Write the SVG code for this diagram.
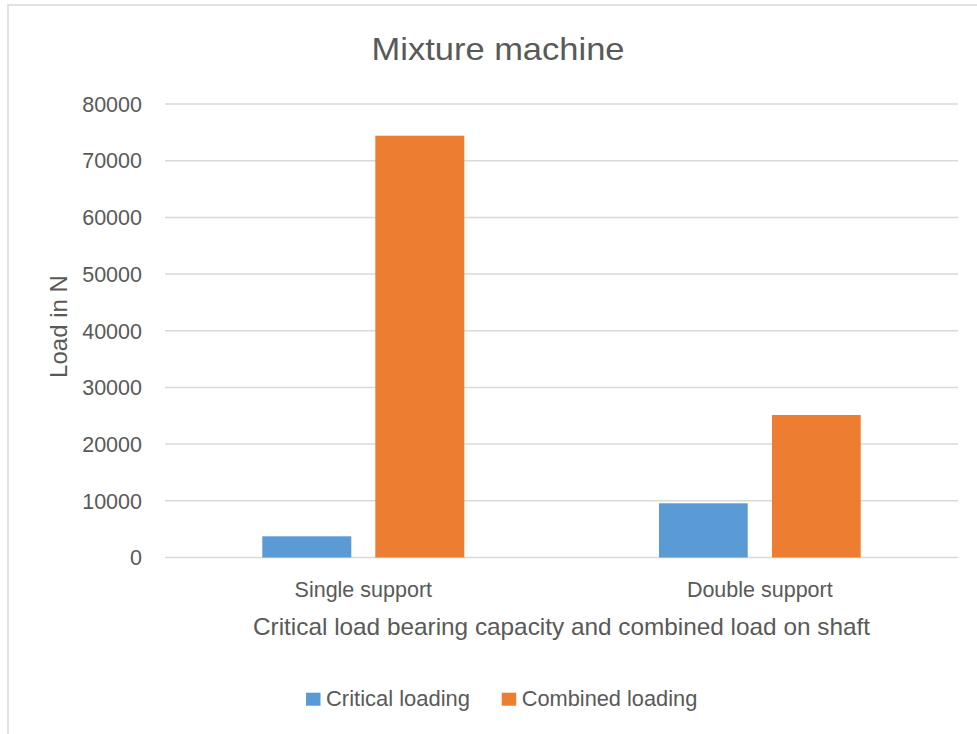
<svg xmlns="http://www.w3.org/2000/svg" width="977" height="734" viewBox="0 0 977 734">
<style>
text{font-family:"Liberation Sans",Arial,sans-serif;fill:#595959}
.tick{font-size:21.5px;text-anchor:end}
.cat{font-size:21.5px;text-anchor:middle}
.leg{font-size:21.5px}
.grid{stroke:#d9d9d9;stroke-width:1.5}
.blue{fill:#5b9bd5}
.orange{fill:#ed7d31}
</style>
<rect x="0" y="0" width="977" height="734" fill="#ffffff"/>
<path d="M8,740 V5 H980" fill="none" stroke="#d9d9d9" stroke-width="1.5"/>
<g id="title"><text x="498" y="60" font-size="32" text-anchor="middle" textLength="253" lengthAdjust="spacingAndGlyphs">Mixture machine</text></g>
<g id="gridlines">
<line class="grid" x1="165" y1="104" x2="958" y2="104"/>
<line class="grid" x1="165" y1="160.7" x2="958" y2="160.7"/>
<line class="grid" x1="165" y1="217.4" x2="958" y2="217.4"/>
<line class="grid" x1="165" y1="274.1" x2="958" y2="274.1"/>
<line class="grid" x1="165" y1="330.8" x2="958" y2="330.8"/>
<line class="grid" x1="165" y1="387.4" x2="958" y2="387.4"/>
<line class="grid" x1="165" y1="444.1" x2="958" y2="444.1"/>
<line class="grid" x1="165" y1="500.8" x2="958" y2="500.8"/>
<line class="grid" x1="165" y1="557.5" x2="958" y2="557.5"/>
</g>
<g id="y-axis">
<text class="tick" x="142" y="111.7">80000</text>
<text class="tick" x="142" y="168.4">70000</text>
<text class="tick" x="142" y="225.1">60000</text>
<text class="tick" x="142" y="281.8">50000</text>
<text class="tick" x="142" y="338.5">40000</text>
<text class="tick" x="142" y="395.1">30000</text>
<text class="tick" x="142" y="451.8">20000</text>
<text class="tick" x="142" y="508.5">10000</text>
<text class="tick" x="142" y="565.2">0</text>
<text x="0" y="0" font-size="24" text-anchor="middle" transform="translate(67,326.5) rotate(-90)">Load in N</text>
</g>
<g id="series-critical">
<rect class="blue" x="262.3" y="536.3" width="89" height="21.2"/>
<rect class="blue" x="659" y="503.3" width="88.7" height="54.2"/>
</g>
<g id="series-combined">
<rect class="orange" x="375.3" y="135.7" width="89" height="421.8"/>
<rect class="orange" x="772" y="415" width="88.7" height="142.5"/>
</g>
<g id="x-axis">
<text class="cat" x="363.3" y="597">Single support</text>
<text class="cat" x="759.8" y="597">Double support</text>
<text x="561.5" y="635" font-size="24" text-anchor="middle" textLength="617" lengthAdjust="spacingAndGlyphs">Critical load bearing capacity and combined load on shaft</text>
</g>
<g id="legend">
<rect class="blue" x="306" y="692.7" width="14.5" height="13"/>
<text class="leg" x="326" y="706" textLength="144" lengthAdjust="spacingAndGlyphs">Critical loading</text>
<rect class="orange" x="501.7" y="692.7" width="14.5" height="13"/>
<text class="leg" x="521.7" y="706" textLength="175.6" lengthAdjust="spacingAndGlyphs">Combined loading</text>
</g>
</svg>
